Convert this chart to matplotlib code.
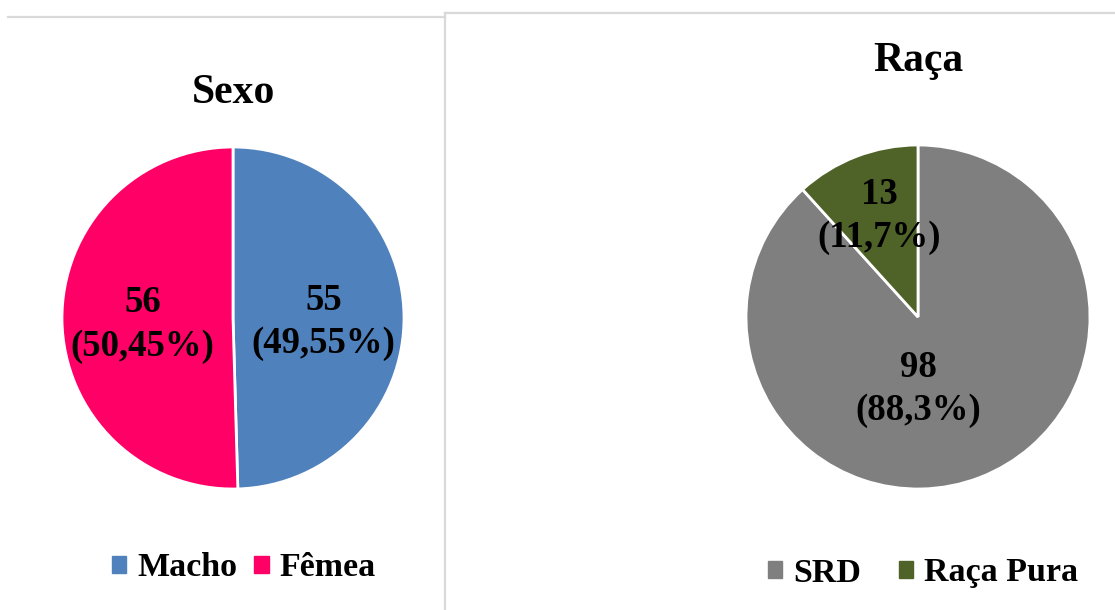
import numpy as np
import matplotlib.pyplot as plt
from matplotlib.lines import Line2D
from matplotlib.patches import Patch

plt.rcParams['font.family'] = ['Liberation Serif', 'DejaVu Serif']
plt.rcParams['font.weight'] = 'bold'

# dados
sexo_cat = ['Macho', 'Fêmea']
sexo_val = [55, 56]
sexo_pct = ['49,55%', '50,45%']
sexo_cor = ['#4F81BD', '#FF0066']

raca_cat = ['SRD', 'Raça Pura']
raca_val = [98, 13]
raca_pct = ['88,3%', '11,7%']
raca_cor = ['#7F7F7F', '#4F6228']

W, H = 1115, 610
fig = plt.figure(figsize=(W / 100, H / 100), dpi=100)


def eixo_px(cx, cy, r):
    # eixo quadrado em pixels, centro (cx, cy) medido do topo
    return fig.add_axes([(cx - r) / W, (H - cy - r) / H, 2 * r / W, 2 * r / H])


def pizza(ax, vals, cores):
    ws, _ = ax.pie(vals, colors=cores, startangle=90, counterclock=False,
                   radius=1, wedgeprops=dict(edgecolor='white', linewidth=2))
    ax.set_xlim(-1, 1)
    ax.set_ylim(-1, 1)
    ax.set_aspect('equal')
    ax.axis('off')
    return ws


def angulo_meio(vals, i):
    tot = sum(vals)
    ini = 90 - 360 * sum(vals[:i]) / tot
    return np.deg2rad(ini - 180 * vals[i] / tot)


rot_kw = dict(ha='center', va='center', fontsize=26.5, fontweight='bold', linespacing=1.3)

# Sexo
ax1 = eixo_px(233, 318, 171)
pizza(ax1, sexo_val, sexo_cor)
for i, v in enumerate(sexo_val):
    a = angulo_meio(sexo_val, i)
    ax1.text(0.53 * np.cos(a), 0.53 * np.sin(a) - 0.03, f'{v}\n({sexo_pct[i]})', **rot_kw)

# Raça
ax2 = eixo_px(918, 317, 172)
pizza(ax2, raca_val, raca_cor)
a = angulo_meio(raca_val, 1)
ax2.text(0.63 * np.cos(a), 0.63 * np.sin(a), f'{raca_val[1]}\n({raca_pct[1]})', **rot_kw)
ax2.text(0, -0.42, f'{raca_val[0]}\n({raca_pct[0]})', **rot_kw)

# títulos
fig.text(233 / W, 1 - 93 / H, 'Sexo', ha='center', va='center', fontsize=30, fontweight='bold')
fig.text(918 / W, 1 - 61 / H, 'Raça', ha='center', va='center', fontsize=30, fontweight='bold')

# legendas
leg_kw = dict(loc='center', ncol=2, frameon=False, handlelength=0.42,
              handleheight=0.42, handletextpad=0.32, columnspacing=0.5,
              prop=dict(family='Liberation Serif', weight='bold', size=24.5))
fig.legend([Patch(color=c) for c in sexo_cor], sexo_cat,
           bbox_to_anchor=(244 / W, 1 - 568 / H), **leg_kw)
leg_kw['columnspacing'] = 1.1
fig.legend([Patch(color=c) for c in raca_cor], raca_cat,
           bbox_to_anchor=(923 / W, 1 - 573 / H), **leg_kw)

# bordas dos painéis
borda = '#D9D9D9'
fig.add_artist(Line2D([8 / W, 445 / W], [1 - 17 / H, 1 - 17 / H], color=borda, lw=1.6))
fig.add_artist(Line2D([445 / W, 1], [1 - 13 / H, 1 - 13 / H], color=borda, lw=1.6))
fig.add_artist(Line2D([445 / W, 445 / W], [1 - 13 / H, 0], color=borda, lw=1.6))

fig.savefig('out.png', dpi=100, facecolor='white')
